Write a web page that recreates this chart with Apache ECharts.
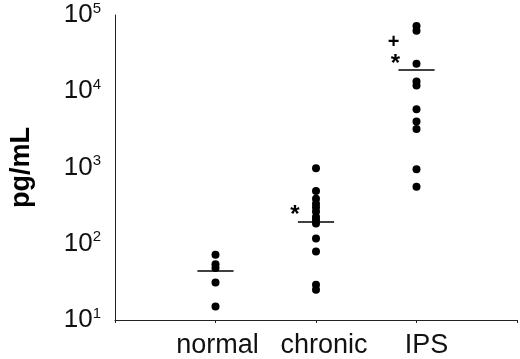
<!DOCTYPE html>
<html>
<head>
<meta charset="utf-8">
<script src="https://cdn.jsdelivr.net/npm/echarts@6/dist/echarts.min.js"></script>
<style>
  html, body { margin: 0; padding: 0; background: #fff; }
  #chart { width: 520px; height: 359px; }
</style>
</head>
<body>
<div id="chart"></div>
<script>
// data
const categories = ['normal', 'chronic', 'IPS'];
const normalValues = [72, 54, 48, 31, 15];
const chronicValues = [980, 490, 390, 335, 300, 265, 225, 205, 185, 117, 79, 29, 25];
const ipsValues = [72000, 62000, 23000, 13400, 11900, 5800, 4000, 3200, 950, 560];
const medians = [44, 193, 19200];
const yTicks = [10, 100, 1000, 10000, 100000];
// significance marks: category index (1-based), value, symbol
const noteCats = [2, 3, 3];
const noteValues = [263, 25100, 43200];
const noteTexts = ['*', '*', '+'];

const font = '"Liberation Sans", Arial, sans-serif';
const groups = [normalValues, chronicValues, ipsValues];

const dotSeries = groups.map((vals, i) => ({
  type: 'scatter',
  symbol: 'circle',
  symbolSize: 8,
  itemStyle: { color: '#000', opacity: 1 },
  data: vals.map(v => [i + 1, v]),
  silent: true,
  markLine: {
    silent: true,
    symbol: 'none',
    label: { show: false },
    lineStyle: { color: '#000', width: 1.5, type: 'solid', opacity: 1 },
    data: [[{ coord: [i + 1 - 0.18, medians[i]] }, { coord: [i + 1 + 0.18, medians[i]] }]]
  }
}));

const noteSeries = {
  type: 'scatter',
  symbolSize: 0,
  silent: true,
  itemStyle: { color: '#000', opacity: 1 },
  data: noteCats.map((c, i) => ({
    value: [c, noteValues[i]],
    label: {
      show: true,
      formatter: noteTexts[i],
      offset: [noteTexts[i] === '+' ? -23 : -21, noteTexts[i] === '*' ? 4 : 0],
      fontSize: noteTexts[i] === '*' ? 24 : 20,
      fontWeight: 'bold',
      color: '#000',
      opacity: 1,
      fontFamily: font
    }
  }))
};

const supDigits = { 10: '1', 100: '2', 1000: '3', 10000: '4', 100000: '5' };

const option = {
  backgroundColor: '#fff',
  animation: false,
  grid: { left: 113, right: 3, top: 15, bottom: 37 },
  xAxis: {
    type: 'value',
    min: 0,
    max: 4,
    interval: 1,
    splitLine: { show: false },
    axisLine: { lineStyle: { color: '#222', width: 1 } },
    axisTick: { show: true, length: 3, lineStyle: { color: '#222' } },
    axisLabel: {
      margin: 12,
      color: '#111',
      fontFamily: font,
      fontSize: 27,
      formatter: v => {
        const name = categories[v - 1];
        if (!name) return '';
        return '{c' + v + '|' + name + '}';
      },
      rich: {
        c1: { fontSize: 27, fontFamily: font, color: '#111', padding: [0, 0, 0, 4] },
        c2: { fontSize: 27, fontFamily: font, color: '#111', padding: [0, 0, 0, 16] },
        c3: { fontSize: 27, fontFamily: font, color: '#111', padding: [0, 0, 0, 20] }
      }
    }
  },
  yAxis: {
    type: 'log',
    logBase: 10,
    min: yTicks[0],
    max: yTicks[yTicks.length - 1],
    splitLine: { show: false },
    axisLine: { show: true, lineStyle: { color: '#222', width: 1 } },
    axisTick: { show: false },
    name: 'pg/mL',
    nameLocation: 'middle',
    nameGap: 80,
    nameTextStyle: { fontSize: 27, fontWeight: 'bold', color: '#000', fontFamily: font },
    axisLabel: {
      margin: 14,
      color: '#111',
      formatter: v => '{b|10}{s|' + (supDigits[v] || '') + '}',
      rich: {
        b: { fontSize: 26, fontFamily: font, color: '#111', lineHeight: 28 },
        s: { fontSize: 15, fontFamily: font, color: '#111', verticalAlign: 'top', lineHeight: 24 }
      }
    }
  },
  series: dotSeries.concat([noteSeries])
};

const myChart = echarts.init(document.getElementById('chart'), null, { renderer: 'canvas' });
myChart.setOption(option);
</script>
</body>
</html>
